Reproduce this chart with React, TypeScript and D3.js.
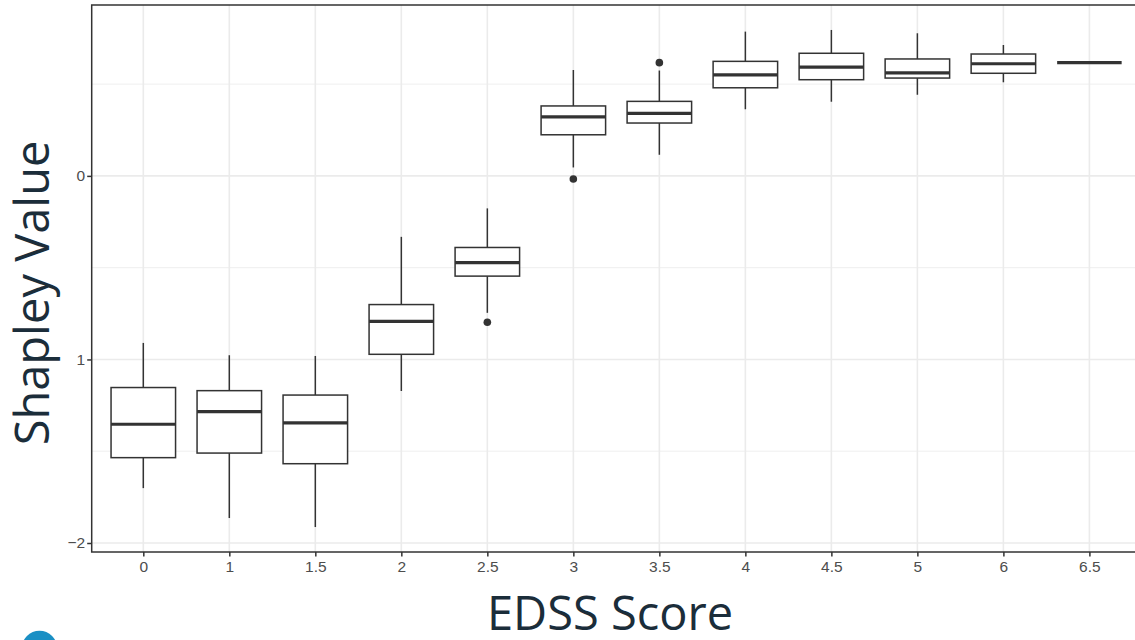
import React, { useEffect, useRef } from 'react';
import * as d3 from 'd3';

// EDSS score groups and their box summaries
const categories = ['0', '1', '1.5', '2', '2.5', '3', '3.5', '4', '4.5', '5', '6', '6.5'];
const whiskerHigh = [-0.91, -0.977, -0.981, -0.332, -0.177, 0.577, 0.574, 0.786, 0.795, 0.777, 0.713, 0.617];
const q3 = [-1.153, -1.17, -1.194, -0.701, -0.39, 0.381, 0.406, 0.624, 0.668, 0.637, 0.664, 0.617];
const median = [-1.353, -1.284, -1.346, -0.793, -0.472, 0.321, 0.341, 0.55, 0.593, 0.561, 0.611, 0.617];
const q1 = [-1.535, -1.51, -1.568, -0.972, -0.546, 0.224, 0.288, 0.48, 0.524, 0.533, 0.559, 0.617];
const whiskerLow = [-1.701, -1.864, -1.913, -1.172, -0.746, 0.046, 0.115, 0.363, 0.404, 0.442, 0.51, 0.617];
const outliers = [
  { group: '2.5', value: -0.797 },
  { group: '3', value: -0.017 },
  { group: '3.5', value: 0.617 },
];

const yMajor = [0, -1, -2];
const yTickLabels = ['0', '1', '\u22122'];
const yMinor = [0.5, -0.5, -1.5];

const Chart = ({ width = 1135, height = 640 }) => {
  const svgRef = useRef<SVGSVGElement>(null);

  useEffect(() => {
    const svg = d3.select(svgRef.current);
    svg.selectAll('*').remove();

    const panel = { left: 91.7, right: 1141, top: 5, bottom: 552 };

    const x = d3.scalePoint()
      .domain(categories)
      .range([panel.left, panel.right])
      .padding(0.6);

    const y = d3.scaleLinear()
      .domain([-2.049, 0.931])
      .range([panel.bottom, panel.top]);

    const boxW = x.step() * 0.75;
    const ink = '#333333';

    // background + grid
    svg.append('rect')
      .attr('x', panel.left).attr('y', panel.top)
      .attr('width', panel.right - panel.left).attr('height', panel.bottom - panel.top)
      .attr('fill', 'white');

    svg.append('g').selectAll('line')
      .data(yMinor)
      .enter().append('line')
      .attr('x1', panel.left).attr('x2', panel.right)
      .attr('y1', d => y(d)).attr('y2', d => y(d))
      .attr('stroke', '#ebebeb').attr('stroke-width', 0.8);

    svg.append('g').selectAll('line')
      .data(yMajor)
      .enter().append('line')
      .attr('x1', panel.left).attr('x2', panel.right)
      .attr('y1', d => y(d)).attr('y2', d => y(d))
      .attr('stroke', '#ebebeb').attr('stroke-width', 1.6);

    svg.append('g').selectAll('line')
      .data(categories)
      .enter().append('line')
      .attr('x1', d => x(d)).attr('x2', d => x(d))
      .attr('y1', panel.top).attr('y2', panel.bottom)
      .attr('stroke', '#ebebeb').attr('stroke-width', 1.6);

    // boxes
    const rows = categories.map((c, i) => ({
      c, lo: whiskerLow[i], q1: q1[i], med: median[i], q3: q3[i], hi: whiskerHigh[i],
    }));

    const g = svg.append('g');

    g.selectAll('.whisker-up')
      .data(rows)
      .enter().append('line')
      .attr('x1', d => x(d.c)).attr('x2', d => x(d.c))
      .attr('y1', d => y(d.q3)).attr('y2', d => y(d.hi))
      .attr('stroke', ink).attr('stroke-width', 1.5);

    g.selectAll('.whisker-down')
      .data(rows)
      .enter().append('line')
      .attr('x1', d => x(d.c)).attr('x2', d => x(d.c))
      .attr('y1', d => y(d.q1)).attr('y2', d => y(d.lo))
      .attr('stroke', ink).attr('stroke-width', 1.5);

    g.selectAll('.box')
      .data(rows)
      .enter().append('rect')
      .attr('x', d => x(d.c) - boxW / 2)
      .attr('y', d => y(d.q3))
      .attr('width', boxW)
      .attr('height', d => y(d.q1) - y(d.q3))
      .attr('fill', 'white')
      .attr('stroke', ink).attr('stroke-width', 1.5);

    g.selectAll('.median')
      .data(rows)
      .enter().append('line')
      .attr('x1', d => x(d.c) - boxW / 2).attr('x2', d => x(d.c) + boxW / 2)
      .attr('y1', d => y(d.med)).attr('y2', d => y(d.med))
      .attr('stroke', ink).attr('stroke-width', 3.2);

    g.selectAll('.outlier')
      .data(outliers)
      .enter().append('circle')
      .attr('cx', d => x(d.group))
      .attr('cy', d => y(d.value))
      .attr('r', 3.8)
      .attr('fill', ink);

    // panel border
    svg.append('rect')
      .attr('x', panel.left).attr('y', panel.top)
      .attr('width', panel.right - panel.left).attr('height', panel.bottom - panel.top)
      .attr('fill', 'none')
      .attr('stroke', ink).attr('stroke-width', 1.5);

    // axes
    const xAxis = svg.append('g')
      .attr('transform', `translate(0,${panel.bottom})`)
      .call(d3.axisBottom(x).tickSize(4.5).tickPadding(4));
    xAxis.select('.domain').remove();

    const yAxis = svg.append('g')
      .attr('transform', `translate(${panel.left},0)`)
      .call(d3.axisLeft(y).tickValues(yMajor).tickSize(4.5).tickPadding(2)
        .tickFormat((d, i) => yTickLabels[i]));
    yAxis.select('.domain').remove();

    [xAxis, yAxis].forEach(a => {
      a.selectAll('line').attr('stroke', ink).attr('stroke-width', 1.5);
      a.selectAll('text')
        .attr('fill', '#4d4d4d')
        .style('font-family', '"Liberation Sans", Arial, sans-serif')
        .style('font-size', '15.5px');
    });

    // axis titles
    svg.append('text')
      .attr('x', 610)
      .attr('y', 630)
      .style('text-anchor', 'middle')
      .style('font-family', '"Open Sans", sans-serif')
      .style('font-size', '47px')
      .attr('fill', '#1b2d3a')
      .text('EDSS Score');

    svg.append('text')
      .attr('transform', 'translate(49,293) rotate(-90)')
      .style('text-anchor', 'middle')
      .style('font-family', '"Open Sans", sans-serif')
      .style('font-size', '47px')
      .attr('fill', '#1b2d3a')
      .text('Shapley Value');

    // partial logo circle in the bottom-left corner
    svg.append('circle')
      .attr('cx', 39.5).attr('cy', 648.5).attr('r', 17.8)
      .attr('fill', '#1a8fc4');
  }, [width, height]);

  return (
    <svg
      ref={svgRef}
      width={width}
      height={height}
      style={{ position: 'absolute', left: 0, top: 0, background: 'white' }}
    />
  );
};

export default function App() {
  return <Chart />;
}
